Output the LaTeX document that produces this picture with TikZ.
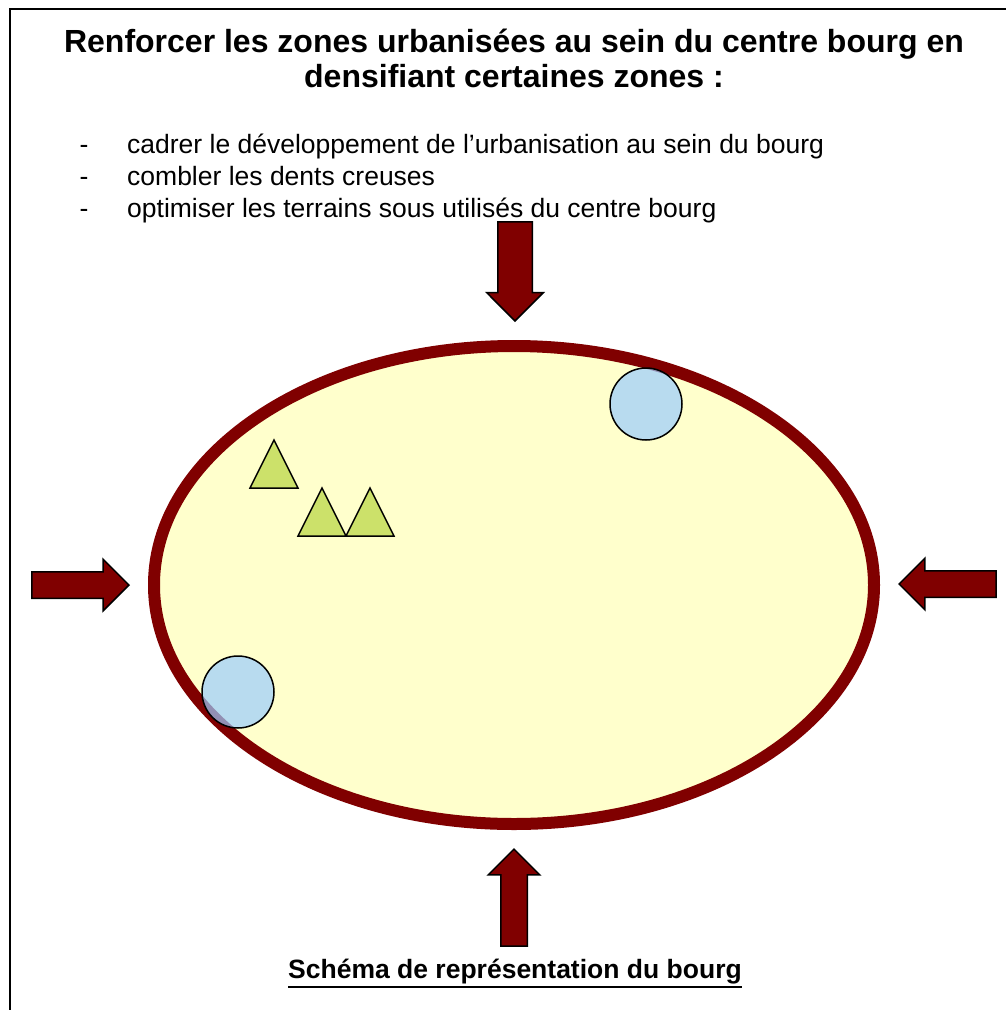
\documentclass[tikz,border=0pt]{standalone}
\usepackage{fontspec}
\setmainfont{Liberation Sans}
\usetikzlibrary{shapes.geometric,shapes.arrows}
\definecolor{bordeaux}{RGB}{128,0,0}
\definecolor{jaune}{RGB}{255,255,204}
\definecolor{bleu}{RGB}{155,205,255}
\definecolor{vert}{RGB}{204,225,106}

\begin{document}
\begin{tikzpicture}[x=1pt,y=-1pt,
  titre/.style={font=\bfseries\fontsize{32}{38}\selectfont,anchor=base,inner sep=0},
  puce/.style={font=\fontsize{26.5}{30}\selectfont,anchor=base west,inner sep=0},
  pousse/.style={single arrow,draw=black,line width=1.5,fill=bordeaux,inner sep=12.5,anchor=tip,
    single arrow head extend=12.5,single arrow tip angle=90,minimum height=97},
  rond/.style={circle,draw=black,line width=1.5,fill=bleu,fill opacity=0.7,minimum size=72,inner sep=0},
  ilot/.style={draw=black,line width=1.5,fill=vert,line join=miter}]
\useasboundingbox (0,0) rectangle (1006,1010);
\draw[line width=2] (1006,9) -- (10,9) -- (10,1010);

% titre et objectifs
\node[titre] (titre1) at (514,52) {Renforcer les zones urbanisées au sein du centre bourg en};
\node[titre] (titre2) at (514,87) {densifiant certaines zones :};
\foreach \y/\txt [count=\i] in {153/cadrer le développement de l’urbanisation au sein du bourg,
    185/combler les dents creuses,
    217/optimiser les terrains sous utilisés du centre bourg}{
  \node[puce,anchor=base] (tiret\i) at (84,\y) {-};
  \node[puce] (obj\i) at (127,\y) {\txt};
}

% le bourg
\node[ellipse,draw=bordeaux,line width=12,fill=jaune,minimum width=720,minimum height=478,inner sep=0] (bourg) at (514,585) {};
\node[rond] (rond1) at (646,404) {};
\node[rond] (rond2) at (238,692) {};
\foreach \x/\y in {274/440,322/488,370/488}
  \draw[ilot] (\x-24,\y+48) -- (\x,\y) -- (\x+24,\y+48) -- cycle;

% pressions
\node[pousse,rotate=-90,inner sep=16.5,single arrow head extend=11,minimum height=99] (haut) at (515,322) {};
\node[pousse,rotate=90] (bas) at (514,848) {};
\node[pousse] (gauche) at (130,585) {};
\node[pousse,rotate=180] (droite) at (898,584) {};

\node[font=\bfseries\fontsize{26.5}{30}\selectfont,anchor=base,inner sep=0] (legende) at (515,978) {Schéma de représentation du bourg};
\draw[line width=2.5] ([yshift=-9pt]legende.base west) -- ([yshift=-9pt]legende.base east);
\end{tikzpicture}
\end{document}
